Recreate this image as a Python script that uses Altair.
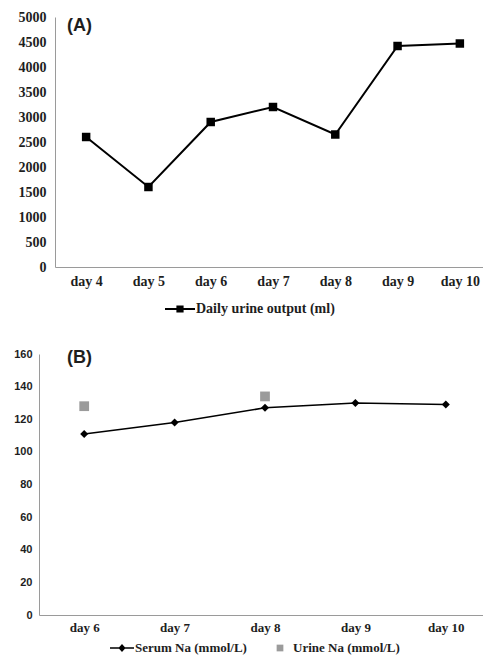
import altair as alt
import pandas as pd

# ---- data ----
days_a = ["day 4", "day 5", "day 6", "day 7", "day 8", "day 9", "day 10"]
urine_output = [2600, 1600, 2900, 3200, 2650, 4420, 4470]
series_a = "Daily urine output (ml)"

days_b = ["day 6", "day 7", "day 8", "day 9", "day 10"]
serum_na = [111, 118, 127, 130, 129]
urine_na_days = ["day 6", "day 8"]
urine_na = [128, 134]
series_b = ["Serum Na (mmol/L)", "Urine Na (mmol/L)"]

SERIF = "Liberation Serif"
SANS = "Liberation Sans"
TXT = "#1e1e1e"
AXIS_GRAY = "#9a9a9a"
URINE_GRAY = "#9b9b9b"

# legend symbol paths (unit coordinates)
PATH_A = ("M-1,-0.07L1,-0.07L1,0.07L-1,0.07Z "
          "M-0.24,-0.24L0.24,-0.24L0.24,0.24L-0.24,0.24Z")
PATH_B1 = ("M-1,-0.055L1,-0.055L1,0.055L-1,0.055Z "
           "M0,-0.33L0.3,0L0,0.33L-0.3,0Z")
PATH_B2 = "M-0.28,-0.28L0.28,-0.28L0.28,0.28L-0.28,0.28Z"

W = 452
SHIFT_A = 16
H_A = 250
H_B = 261

df_a = pd.DataFrame({"day": days_a, "value": urine_output, "series": series_a})

xa = alt.X("day:N", sort=days_a,
           scale=alt.Scale(type="point", padding=0.5, range=[SHIFT_A, W]),
           axis=alt.Axis(title=None, labelAngle=0, ticks=False, tickSize=0,
                         labelFont=SERIF, labelFontWeight="bold", labelFontSize=14,
                         labelColor=TXT, labelPadding=7, domainColor=AXIS_GRAY,
                         grid=False))
ya = alt.Y("value:Q", scale=alt.Scale(domain=[0, 5000]),
           axis=alt.Axis(title=None, values=list(range(0, 5001, 500)), format="d",
                         ticks=False, tickSize=0, labelFont=SERIF, labelFontWeight="bold",
                         labelFontSize=14, labelColor=TXT, labelPadding=9,
                         domainColor=AXIS_GRAY, grid=False, offset=-SHIFT_A))

base_a = alt.Chart(df_a).encode(x=xa, y=ya)
line_a = base_a.mark_line(color="black", strokeWidth=2)
pts_a = base_a.mark_point(shape="square", filled=True, size=72, opacity=1).encode(
    color=alt.Color("series:N", scale=alt.Scale(domain=[series_a], range=["black"]),
                    legend=alt.Legend(title=None, orient="none", legendX=126, legendY=277,
                                      symbolType=PATH_A, symbolSize=900,
                                      symbolStrokeWidth=0, labelOffset=1,
                                      labelFont=SERIF, labelFontWeight="bold",
                                      labelFontSize=14, labelColor=TXT, padding=0)))
lab_a = alt.Chart(pd.DataFrame({"t": ["(A)"]})).mark_text(
    font=SANS, fontWeight="bold", fontSize=18, align="left", baseline="top", color=TXT
).encode(text="t:N", x=alt.value(SHIFT_A + 12), y=alt.value(0))

chart_a = alt.layer(line_a, pts_a, lab_a).properties(width=W, height=H_A)

# ---- chart B ----
df_serum = pd.DataFrame({"day": days_b, "value": serum_na, "series": series_b[0]})
df_urine = pd.DataFrame({"day": urine_na_days, "value": urine_na, "series": series_b[1]})
df_both = pd.concat([df_serum, df_urine], ignore_index=True)

xb = alt.X("day:N", sort=days_b, scale=alt.Scale(type="point", padding=0.5),
           axis=alt.Axis(title=None, labelAngle=0, ticks=False, tickSize=0,
                         labelFont=SERIF, labelFontWeight="bold", labelFontSize=13,
                         labelColor=TXT, labelPadding=6, domainColor=AXIS_GRAY,
                         grid=False))
yb = alt.Y("value:Q", scale=alt.Scale(domain=[0, 160]),
           axis=alt.Axis(title=None, values=list(range(0, 161, 20)), format="d",
                         ticks=False, tickSize=0, labelFont=SANS, labelFontWeight="bold",
                         labelFontSize=11, labelColor=TXT, labelPadding=7,
                         domainColor=AXIS_GRAY, grid=False))

leg_b = dict(title=None, orient="none", legendX=71, legendY=282, direction="horizontal",
             symbolSize=576, symbolStrokeWidth=0, symbolOpacity=1, labelOffset=1,
             columnPadding=21, labelFont=SERIF, labelFontWeight="bold",
             labelFontSize=13, labelColor=TXT, padding=0)

serum_line = alt.Chart(df_serum).mark_line(color="black", strokeWidth=1.5).encode(x=xb, y=yb)
serum_pts = alt.Chart(df_serum).mark_point(shape="diamond", filled=True, size=64,
                                           opacity=1, color="black").encode(x=xb, y=yb)
urine_pts = alt.Chart(df_urine).mark_point(shape="square", filled=True, size=95,
                                           opacity=1, color=URINE_GRAY).encode(x=xb, y=yb)
legend_layer = alt.Chart(df_both).mark_point(filled=True, opacity=0).encode(
    x=xb, y=yb,
    color=alt.Color("series:N", scale=alt.Scale(domain=series_b, range=["black", URINE_GRAY]),
                    legend=alt.Legend(**leg_b)),
    shape=alt.Shape("series:N", scale=alt.Scale(domain=series_b, range=[PATH_B1, PATH_B2]),
                    legend=alt.Legend(**leg_b)))
lab_b = alt.Chart(pd.DataFrame({"t": ["(B)"]})).mark_text(
    font=SANS, fontWeight="bold", fontSize=18, align="left", baseline="top", color=TXT
).encode(text="t:N", x=alt.value(28), y=alt.value(-5))

chart_b = alt.layer(serum_line, urine_pts, serum_pts, legend_layer, lab_b).properties(
    width=W, height=H_B)

chart = alt.vconcat(chart_a, chart_b, spacing=32).resolve_scale(
    color="independent", shape="independent", x="independent", y="independent"
).resolve_legend(color="independent", shape="independent").properties(
    padding={"left": 5, "top": 2, "right": -8, "bottom": 0}
).configure_view(strokeWidth=0)

chart.save("out.html", embed_options={"renderer": "svg", "actions": False})
